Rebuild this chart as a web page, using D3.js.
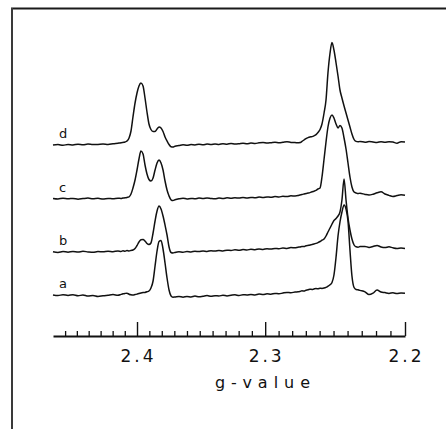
<!DOCTYPE html>
<html><head><meta charset="utf-8">
<script src="https://cdn.jsdelivr.net/npm/d3@7"></script>
<style>html,body{margin:0;padding:0;background:#fff;}svg{display:block;}</style>
</head><body>
<svg id="chart" width="446" height="429"></svg>
<script>
// ---------------- DATA ----------------
// sample positions (g-value), shared by all four spectra
const gValues = [
  2.4704,2.4661,2.4618,2.4575,2.4533,2.4490,2.4448,2.4406,2.4364,2.4322,2.4280,2.4238,2.4197,2.4156,
  2.4131,2.4115,2.4098,2.4082,2.4065,2.4049,2.4033,2.4016,2.4000,2.3984,2.3968,2.3951,2.3935,2.3919,
  2.3903,2.3887,2.3870,2.3854,2.3838,2.3822,2.3806,2.3790,2.3774,2.3758,2.3742,2.3726,2.3711,2.3695,
  2.3663,2.3631,2.3600,2.3568,2.3537,2.3506,2.3474,2.3443,2.3412,2.3381,2.3351,2.3320,2.3289,2.3258,2.3228,
  2.3197,2.3167,2.3137,2.3107,2.3076,2.3046,2.3016,2.2986,2.2957,2.2927,2.2897,2.2868,2.2838,2.2809,2.2779,
  2.2757,2.2743,2.2728,2.2713,2.2699,2.2684,2.2670,2.2655,2.2641,2.2626,2.2612,2.2597,2.2583,2.2568,2.2554,2.2540,
  2.2525,2.2511,2.2497,2.2482,2.2468,2.2454,2.2440,2.2425,2.2411,2.2397,2.2383,2.2369,2.2354,2.2340,2.2326,2.2312,
  2.2277,2.2249,2.2221,2.2193,2.2165,2.2138,2.2110,2.2083,2.2055,2.2027,2.2000
];
// EPR absorption intensity (arbitrary units) for each spectrum
const seriesA = [
  0,-0.6,0.3,-0.4,0.2,-0.8,0.1,-1.0,-0.5,-1.5,-0.8,-0.2,0.4,-0.3,
  0.6,1.2,1.6,1.8,0.8,0.2,0,0.4,0.9,1.5,2.0,2.4,2.6,3.2,
  4.0,7,14,29,44,53.5,54.5,46,32,17,5,-1,-2.2,-2.0,
  -1.5,-2.2,-1.4,-1.9,-1.1,-1.8,-1.2,-0.6,-1.3,-0.7,-1.0,-0.2,-0.9,-0.3,0.2,
  -0.5,0.3,0.0,0.6,0.1,0.9,0.5,1.2,0.8,1.6,1.2,2.0,2.6,2.2,3.0,
  3.2,3.4,4.2,4.0,4.8,5.2,5.8,5.6,6.0,6.4,6.2,6.8,6.6,6.9,7.6,8.8,
  10.2,12.5,20,38,59,73,83,90,86,74,45,19,7.5,5.5,5.2,4.6,
  3.2,0.4,1.8,5.0,3.0,2.4,1.6,2.2,1.4,2.0,1.7
];
const seriesB = [
  0.2,-0.4,0.5,-0.2,0.6,0.0,0.7,0.1,-0.3,0.5,0.2,0.8,0.3,1.0,
  0.6,1.2,0.8,1.4,1.0,1.6,2.0,3.5,6.5,10,12.2,12.5,11,8.5,
  7.5,9,19,31,41,46,43,36,27,17,5,-0.5,-1.0,-0.4,
  0.2,-0.3,0.6,0.1,0.8,0.4,1.1,0.6,1.3,0.9,1.6,1.1,1.8,1.5,2.2,
  1.7,2.4,2.0,2.8,2.3,3.0,2.6,3.3,2.9,3.6,3.2,4.0,3.6,4.4,4.2,
  4.8,5.0,5.6,5.4,6.2,6.6,7.0,7.6,8.0,8.6,9.4,10.5,11.8,13,16,20,
  24,28,31.5,33.5,36,40,52,73,52,34,22,13,7,5.2,4.8,5.4,
  5.6,4.6,5.4,6.6,5.0,4.4,5.2,4.2,3.6,4.0,3.6
];
const seriesC = [
  0.5,0,0.8,0.2,0.6,-0.2,0.4,0.9,0.3,0.7,0.0,0.6,0.2,0.8,
  0.5,1.0,1.2,1.6,2.2,5,11,19,29,40,48,45,34,25,
  19.5,18,21,29,36,39,36,29,18,9,3,-0.8,-1.5,-0.8,
  0.2,0.8,0.1,0.6,0.2,0.9,0.4,1.0,0.5,0.2,0.9,0.5,1.2,0.7,1.3,
  0.9,1.5,1.0,1.6,1.2,1.9,1.4,2.1,1.7,2.4,2.0,2.8,2.4,3.2,3.0,
  3.4,4.0,4.4,5.0,5.6,6.0,6.4,7.2,7.8,8.6,10,11,22,40,57,72,
  81,84,81,75,71,73.5,71,61,50,36,22,12,7,6,5.4,5.8,
  4.6,4.0,4.8,6.2,7.2,5.0,3.6,2.6,3.4,4.2,3.8
];
const seriesD = [
  0,0.5,-0.3,0.6,0,0.8,0.2,0.9,0.4,0.6,1.0,0.5,1.2,1.8,
  2.2,2.6,3.0,4,7,14,28,42,52,59,62,59,47,33,
  21,15.5,13.5,13.5,16,18,17,13.5,8,4,0.5,-1.8,-2,-1.2,
  -0.6,0.2,-0.3,0.4,0.1,0.7,0.3,0.9,0.4,1.0,0.6,1.2,0.8,1.5,1.0,
  1.3,1.8,1.2,1.9,1.5,2.2,2.6,1.9,2.3,2.8,2.2,2.7,3.3,2.6,2.4,
  2.2,2.4,3.6,5.0,6.4,7.4,8.0,8.4,9.2,10.4,12.5,15.5,21,32,45,72,
  92,102.5,95,82,69,55,47,39,32,25,18,11,5.5,3.6,3.2,3.6,
  2.8,3.4,3.0,2.6,3.3,2.8,3.2,2.9,1.8,3.3,3.0
];
const seriesNames = ["a", "b", "c", "d"];
const majorTicks = [2.4, 2.3, 2.2];
const majorTickLabels = ["2.4", "2.3", "2.2"];
const minorTicks = [2.46,2.45,2.44,2.43,2.42,2.41,2.39,2.38,2.37,2.36,2.35,2.34,2.33,2.32,2.31,
                    2.29,2.28,2.27,2.26,2.25,2.24,2.23,2.22,2.21];
const axisTitle = "g-value";

// ---------------- LAYOUT ----------------
const W = 446, H = 429;
const gDomain = [2.4704, 2.2];
const xRange = [53, 405];
const axisY = 336;
const baselineY = [295, 252, 199, 145];   // a, b, c, d vertical offsets
const labelX = 59;
const FONT = "DejaVu Sans, Liberation Sans, sans-serif";

const svg = d3.select("#chart");
svg.append("rect").attr("width", W).attr("height", H).attr("fill", "#fff");

// frame (top and left borders)
svg.append("line").attr("x1", 11).attr("y1", 8.5).attr("x2", W).attr("y2", 8.5)
  .attr("stroke", "#1a1a1a").attr("stroke-width", 2);
svg.append("line").attr("x1", 12).attr("y1", 8).attr("x2", 12).attr("y2", H)
  .attr("stroke", "#3a3a3a").attr("stroke-width", 2);

// g axis is linear in field, i.e. in 1/g
const x = d3.scalePow().exponent(-1).domain(gDomain).range(xRange);
const y = d3.scaleLinear().domain([0, 100]).range([0, -100]);

const allSeries = [seriesA, seriesB, seriesC, seriesD];
const line = d3.line()
  .x((d, i) => x(gValues[i]))
  .y(d => y(d))
  .curve(d3.curveMonotoneX);

allSeries.forEach((s, k) => {
  const grp = svg.append("g").attr("transform", `translate(0,${baselineY[k]})`);
  grp.append("path").datum(s).attr("d", line)
    .attr("fill", "none").attr("stroke", "#111").attr("stroke-width", 1.5)
    .attr("stroke-linejoin", "round");
  grp.append("text").attr("x", labelX).attr("y", -7)
    .attr("font-family", FONT)
    .attr("font-size", 13).attr("fill", "#111").text(seriesNames[k]);
});

// axis: minor ticks
const axMinor = svg.append("g").attr("transform", `translate(0,${axisY})`)
  .call(d3.axisTop(x).tickValues(minorTicks).tickSize(5).tickSizeOuter(0).tickFormat(""));
axMinor.select(".domain").attr("stroke", "#111").attr("stroke-width", 2);
axMinor.selectAll(".tick line").attr("stroke", "#111").attr("stroke-width", 1.3);
// major ticks
const axMajor = svg.append("g").attr("transform", `translate(0,${axisY})`)
  .call(d3.axisTop(x).tickValues(majorTicks).tickSize(14).tickSizeOuter(0).tickFormat(""));
axMajor.select(".domain").remove();
axMajor.selectAll(".tick line").attr("stroke", "#111").attr("stroke-width", 1.4);

// tick labels
const ls = 3;
svg.append("g").selectAll("text").data(majorTicks).join("text")
  .attr("x", d => x(d) + ls / 2).attr("y", 362)
  .attr("text-anchor", "middle")
  .attr("font-family", FONT)
  .attr("font-size", 17).attr("letter-spacing", ls).attr("fill", "#111")
  .text((d, i) => majorTickLabels[i]);

// axis title
const ls2 = 6;
svg.append("text").attr("x", 262.5 + ls2 / 2).attr("y", 388)
  .attr("text-anchor", "middle")
  .attr("font-family", FONT)
  .attr("font-size", 16).attr("letter-spacing", ls2).attr("fill", "#111")
  .text(axisTitle);
</script>
</body></html>
